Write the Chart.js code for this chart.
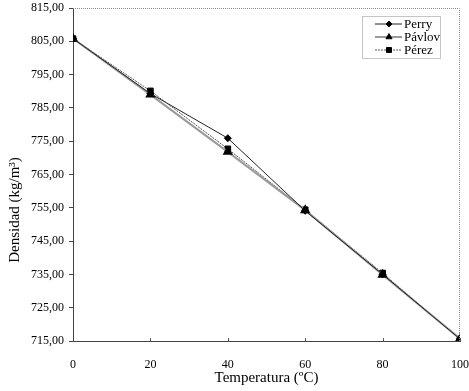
<!DOCTYPE html>
<html>
<head>
<meta charset="utf-8">
<script src="https://cdn.jsdelivr.net/npm/chart.js@4.4.1/dist/chart.umd.min.js"></script>
<style>
  html, body { margin: 0; padding: 0; background: #fff; }
  #wrap { width: 469px; height: 391px; }
</style>
</head>
<body>
<div id="wrap"><canvas id="myChart"></canvas></div>
<script>
var temperaturas = [0, 20, 40, 60, 80, 100]
var perry  = [805.8, 789.3, 775.9, 754.1, 735.0, 715.6]
var pavlov = [805.8, 789.0, 771.8, 754.3, 734.9, 715.7]
var perez  = [805.8, 790.1, 772.7, 754.4, 735.4, 715.5]
var nombres = ['Perry', 'Pávlov', 'Pérez']
var tituloY = 'Densidad (kg/m³)'

function puntos(valores){
    return temperaturas.map(function(t, i){ return {x: t, y: valores[i]} })
}

// marco punteado arriba/derecha, ticks del eje x hacia dentro, titulo y y leyenda
var extras = {
    id: 'extras',
    afterDraw: function(chart){
        var ctx = chart.ctx
        var a = chart.chartArea
        ctx.save()
        ctx.strokeStyle = '#8a8a8a'
        ctx.lineWidth = 1
        ctx.setLineDash([1, 1])
        ctx.beginPath()
        ctx.moveTo(a.left, a.top + 0.5)
        ctx.lineTo(a.right - 0.5, a.top + 0.5)
        ctx.lineTo(a.right - 0.5, a.bottom)
        ctx.stroke()
        ctx.setLineDash([])

        var xs = chart.scales.x
        ctx.strokeStyle = '#555'
        temperaturas.forEach(function(t){
            if (t === 0) return
            var px = Math.round(xs.getPixelForValue(t)) + 0.5
            ctx.beginPath()
            ctx.moveTo(px, a.bottom)
            ctx.lineTo(px, a.bottom - 3)
            ctx.stroke()
        })

        // titulo del eje y (un poco por debajo del centro, como el original)
        ctx.save()
        ctx.translate(15, 210)
        ctx.rotate(-Math.PI / 2)
        ctx.fillStyle = '#000'
        ctx.font = '15px "Liberation Serif"'
        ctx.textAlign = 'center'
        ctx.textBaseline = 'middle'
        ctx.fillText(tituloY, 0, 0)
        ctx.restore()

        // leyenda
        var lx = 362, ly = 16, lw = 78, lh = 42
        ctx.fillStyle = '#fff'
        ctx.fillRect(lx, ly, lw, lh)
        ctx.strokeStyle = '#8a8a8a'
        ctx.setLineDash([1, 1])
        ctx.strokeRect(lx + 0.5, ly + 0.5, lw, lh)
        ctx.setLineDash([])
        chart.data.datasets.forEach(function(ds, i){
            var y = ly + 8 + i * 13
            ctx.strokeStyle = ds.borderColor
            ctx.lineWidth = ds.borderWidth
            ctx.setLineDash(ds.borderDash || [])
            ctx.beginPath()
            ctx.moveTo(lx + 13, y)
            ctx.lineTo(lx + 40, y)
            ctx.stroke()
            ctx.setLineDash([])
            ctx.fillStyle = '#000'
            ctx.strokeStyle = '#000'
            ctx.lineWidth = 1
            Chart.helpers.drawPoint(ctx, {
                pointStyle: ds.pointStyle, radius: ds.pointRadius - 0.5, rotation: 0, borderWidth: 1
            }, lx + 27, y)
            ctx.fillStyle = '#000'
            ctx.font = '13px "Liberation Serif"'
            ctx.textBaseline = 'middle'
            ctx.fillText(ds.label, lx + 42, y + 1)
        })
        ctx.restore()
    }
}

Chart.defaults.font.family = '"Liberation Serif", "Times New Roman", serif'
Chart.defaults.color = '#000'

var ctx = document.getElementById('myChart').getContext('2d')
var myChart = new Chart(ctx, {
    type: 'scatter',
    data: {
        datasets: [{
            label: nombres[0],
            data: puntos(perry),
            showLine: true,
            borderColor: '#222',
            pointBackgroundColor: '#000',
            pointBorderColor: '#000',
            borderWidth: 1,
            pointStyle: 'rectRot',
            pointRadius: 3.5
        }, {
            label: nombres[1],
            data: puntos(pavlov),
            showLine: true,
            borderColor: '#9a9a9a',
            pointBackgroundColor: '#000',
            pointBorderColor: '#000',
            borderWidth: 2,
            pointStyle: 'triangle',
            pointRadius: 4
        }, {
            label: nombres[2],
            data: puntos(perez),
            showLine: true,
            borderColor: '#555',
            pointBackgroundColor: '#000',
            pointBorderColor: '#000',
            borderWidth: 1,
            borderDash: [2, 1],
            pointStyle: 'rect',
            pointRadius: 4
        }]
    },
    options: {
        responsive: true,
        maintainAspectRatio: false,
        animation: false,
        layout: { padding: { top: 8, right: 9, left: 0, bottom: 0 } },
        plugins: {
            legend: { display: false },
            tooltip: { enabled: false }
        },
        scales: {
            x: {
                type: 'linear',
                min: 0,
                max: 100,
                afterFit: function(s){
                    s.height = 50
                    s.paddingLeft = 0
                    s.paddingRight = 0
                },
                border: { color: '#444', width: 1 },
                grid: { display: false },
                ticks: {
                    stepSize: 20,
                    padding: 9,
                    font: { size: 12 }
                },
                title: {
                    display: true,
                    text: 'Temperatura (ºC)',
                    font: { size: 15 },
                    padding: { top: 0, bottom: 4 }
                }
            },
            y: {
                min: 715,
                max: 815,
                afterFit: function(s){
                    s.width = 73
                    s.paddingTop = 0
                    s.paddingBottom = 0
                },
                border: { color: '#444', width: 1 },
                grid: { drawOnChartArea: false, tickLength: 4, color: '#444' },
                ticks: {
                    stepSize: 10,
                    padding: 5,
                    font: { size: 12 },
                    callback: function(v){ return v.toFixed(2).replace('.', ',') }
                }
            }
        }
    },
    plugins: [extras]
})
</script>
</body>
</html>
